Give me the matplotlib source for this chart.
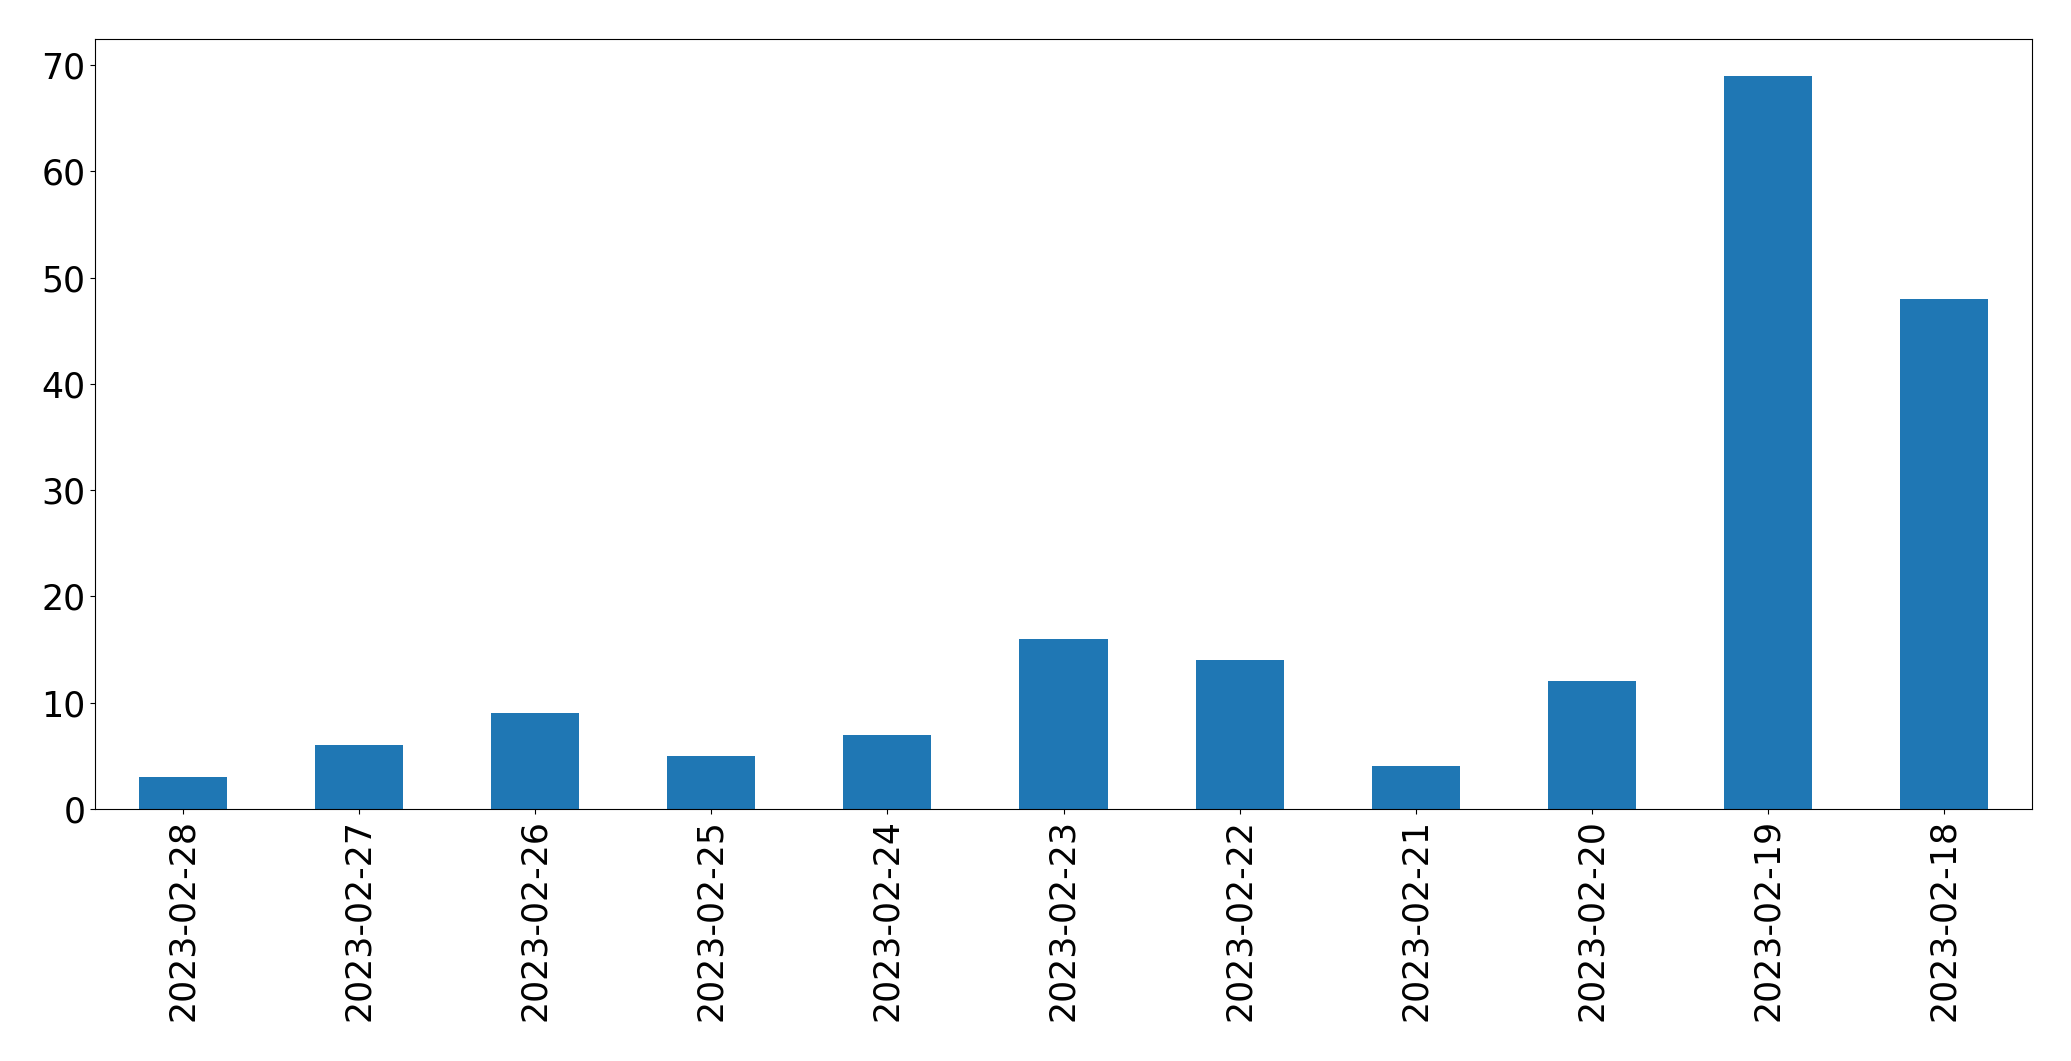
import matplotlib
matplotlib.use("Agg")
import matplotlib.pyplot as plt

dates = ["2023-02-28", "2023-02-27", "2023-02-26", "2023-02-25", "2023-02-24",
         "2023-02-23", "2023-02-22", "2023-02-21", "2023-02-20", "2023-02-19",
         "2023-02-18"]
counts = [3, 6, 9, 5, 7, 16, 14, 4, 12, 69, 48]

fig = plt.figure(figsize=(20.71, 10.61), dpi=100)
ax = fig.add_axes([95/2071, 1 - 809/1061, (2032-95)/2071, (809-39)/1061])

x = range(len(dates))
ax.bar(x, counts, width=0.5, color="#1f77b4")
ax.set_xlim(-0.5, len(dates) - 0.5)
ax.set_ylim(0, max(counts) * 1.05)
ax.set_xticks(list(x))
ax.set_xticklabels(dates, rotation=90)
ax.tick_params(axis="both", labelsize=25)

fig.savefig("out.png", dpi=100)
